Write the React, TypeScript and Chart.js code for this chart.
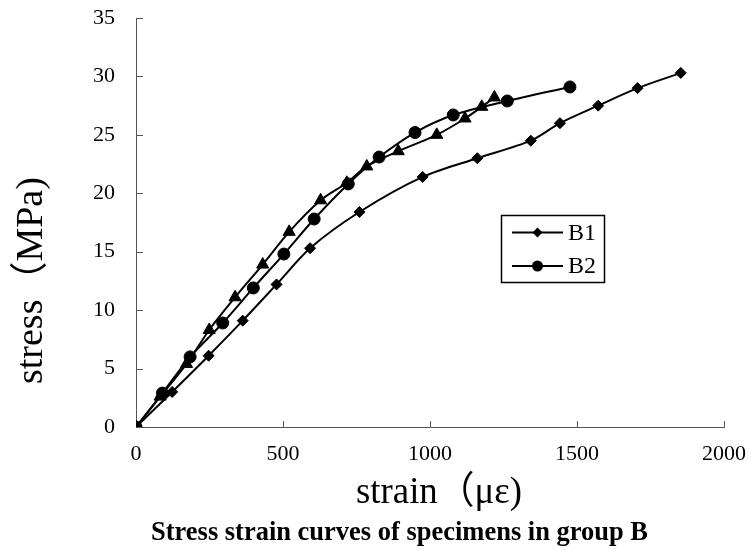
import React, { useEffect, useRef } from "react";
import { Chart, registerables } from "chart.js";
Chart.register(...registerables);

const b1Strain = [0, 123, 247, 363, 478, 592, 760, 975, 1161, 1343, 1442, 1572, 1706, 1853];
const b1Stress = [0, 3.0, 6.1, 9.1, 12.2, 15.3, 18.4, 21.4, 23.0, 24.5, 26.0, 27.5, 29.0, 30.3];
const b2Strain = [0, 90, 184, 295, 399, 503, 606, 722, 827, 949, 1079, 1263, 1476];
const b2Stress = [0, 2.9, 6.0, 8.9, 11.9, 14.8, 17.8, 20.8, 23.1, 25.2, 26.7, 27.9, 29.1];
const b3Strain = [0, 82, 172, 249, 337, 431, 521, 628, 717, 785, 892, 1023, 1119, 1176, 1219];
const b3Stress = [0, 2.6, 5.4, 8.3, 11.1, 13.9, 16.7, 19.4, 20.9, 22.3, 23.6, 25.0, 26.4, 27.4, 28.2];

const xTicks = [0, 500, 1000, 1500, 2000];
const yTicks = [0, 5, 10, 15, 20, 25, 30, 35];
const xTitle = "strain（με)";
const yTitle = "stress（MPa)";
const caption = "Stress strain curves of specimens in group B";
const legendLabels = ["B1", "B2"];

const SERIF = '"Liberation Serif", "Times New Roman", "Noto Sans CJK SC", serif';

const toPts = (xs: number[], ys: number[]) => xs.map((x, i) => ({ x, y: ys[i] }));

const decorPlugin = {
  id: "decor",
  afterDraw(chart: any) {
    const ctx = chart.ctx as CanvasRenderingContext2D;
    const xs = chart.scales.x;
    const ys = chart.scales.y;
    const area = chart.chartArea;
    ctx.save();
    // inside tick marks
    ctx.strokeStyle = "#555";
    ctx.lineWidth = 1;
    ctx.beginPath();
    xTicks.forEach((v) => {
      if (v === 0) return;
      const px = Math.round(xs.getPixelForValue(v)) + 0.5;
      ctx.moveTo(px, area.bottom);
      ctx.lineTo(px, area.bottom - 6);
    });
    yTicks.forEach((v) => {
      if (v === 0) return;
      const py = Math.round(ys.getPixelForValue(v)) + 0.5;
      ctx.moveTo(area.left, py);
      ctx.lineTo(area.left + 7, py);
    });
    ctx.stroke();

    // axis titles
    ctx.fillStyle = "#000";
    ctx.font = `38px ${SERIF}`;
    ctx.textAlign = "left";
    ctx.textBaseline = "alphabetic";
    ctx.fillText(xTitle, 356, 503, 166);
    ctx.save();
    ctx.translate(42, 384);
    ctx.rotate(-Math.PI / 2);
    ctx.fillText(yTitle, 0, 0, 240);
    ctx.restore();

    // caption
    ctx.font = `bold 27px ${SERIF}`;
    ctx.fillText(caption, 151, 540, 497);

    // legend
    const lx = 501.5, ly = 215.5, lw = 103, lh = 67;
    ctx.fillStyle = "#fff";
    ctx.fillRect(lx, ly, lw, lh);
    ctx.strokeStyle = "#000";
    ctx.lineWidth = 1.5;
    ctx.strokeRect(lx, ly, lw, lh);
    const rows = [232.5, 266];
    chart.data.datasets.slice(0, 2).forEach((ds: any, i: number) => {
      const y = rows[i];
      ctx.strokeStyle = "#000";
      ctx.lineWidth = 2;
      ctx.beginPath();
      ctx.moveTo(512, y);
      ctx.lineTo(563, y);
      ctx.stroke();
      ctx.fillStyle = "#000";
      ctx.beginPath();
      if (ds.pointStyle === "rectRot") {
        const r = 5;
        ctx.moveTo(537.5, y - r);
        ctx.lineTo(537.5 + r, y);
        ctx.lineTo(537.5, y + r);
        ctx.lineTo(537.5 - r, y);
        ctx.closePath();
      } else {
        ctx.arc(537.5, y, 5.5, 0, Math.PI * 2);
      }
      ctx.fill();
      ctx.font = `24px ${SERIF}`;
      ctx.textBaseline = "middle";
      ctx.fillText(legendLabels[i], 568, y + 1);
    });
    ctx.restore();
  },
};

export default function App() {
  const ref = useRef<HTMLCanvasElement>(null);
  useEffect(() => {
    document.body.style.margin = "0";
    const canvas = ref.current!;
    const common = {
      showLine: true,
      borderColor: "#000",
      backgroundColor: "#000",
      pointBackgroundColor: "#000",
      pointBorderColor: "#000",
      borderWidth: 2,
      pointBorderWidth: 1,
      tension: 0.3,
      cubicInterpolationMode: "default" as const,
    };
    const chart = new Chart(canvas, {
      type: "scatter",
      data: {
        datasets: [
          { ...common, label: "B1", data: toPts(b1Strain, b1Stress), pointStyle: "rectRot", pointRadius: 5.5 },
          { ...common, label: "B2", data: toPts(b2Strain, b2Stress), pointStyle: "circle", pointRadius: 6 },
          { ...common, label: "B3", data: toPts(b3Strain, b3Stress), pointStyle: "triangle", pointRadius: 7 },
        ],
      },
      options: {
        animation: false,
        responsive: false,
        maintainAspectRatio: false,
        layout: { autoPadding: false, padding: { top: 18, right: 26, left: 0, bottom: 0 } },
        plugins: { legend: { display: false }, title: { display: false }, tooltip: { enabled: false } },
        scales: {
          x: {
            type: "linear",
            min: 0,
            max: 2000,
            afterBuildTicks: (s: any) => { s.ticks = xTicks.map((v) => ({ value: v })); },
            afterFit: (s: any) => {
              s.height = 124;
              s.paddingLeft = 0;
              s.paddingRight = 0;
            },
            grid: { display: false, drawTicks: false },
            border: { display: true, color: "#555", width: 1 },
            ticks: {
              padding: 14,
              color: "#000",
              font: { family: SERIF, size: 22 },
              maxRotation: 0,
              callback: (v: any) => String(v),
            },
          },
          y: {
            type: "linear",
            min: 0,
            max: 35,
            afterBuildTicks: (s: any) => { s.ticks = yTicks.map((v) => ({ value: v })); },
            afterFit: (s: any) => {
              s.width = 136;
              s.paddingTop = 0;
              s.paddingBottom = 0;
            },
            grid: { display: false, drawTicks: false },
            border: { display: true, color: "#555", width: 1 },
            ticks: { padding: 21, color: "#000", font: { family: SERIF, size: 22 }, callback: (v: any) => String(v) },
          },
        },
      },
      plugins: [decorPlugin],
    });
    return () => chart.destroy();
  }, []);
  return <canvas ref={ref} width={750} height={551} style={{ display: "block", width: 750, height: 551 }} />;
}
